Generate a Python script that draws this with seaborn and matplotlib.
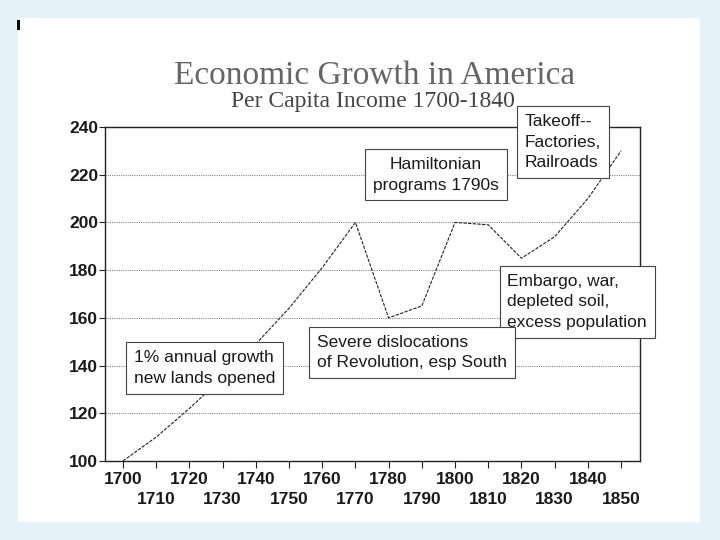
import pandas as pd
import matplotlib
matplotlib.use('Agg')
import matplotlib.pyplot as plt
import seaborn as sns
from matplotlib.patches import Rectangle

# data
years = [1700, 1710, 1720, 1730, 1740, 1750, 1760, 1770,
         1780, 1790, 1800, 1810, 1820, 1830, 1840, 1850]
income = [100, 110, 122, 135, 149, 164, 181, 200,
          160, 165, 200, 199, 185, 194, 210, 230]

y_ticks = [100, 120, 140, 160, 180, 200, 220, 240]
# labels alternate between two rows
x_top = list(range(1700, 1841, 20))
x_bottom = list(range(1710, 1851, 20))

notes = ['Takeoff--\nFactories,\nRailroads',
         'Hamiltonian\nprograms 1790s',
         'Embargo, war,\ndepleted soil,\nexcess population',
         'Severe dislocations\nof Revolution, esp South',
         '1% annual growth\nnew lands opened']
note_x = [1821, 1775.3, 1815.8, 1758.5, 1703.2]
note_y = [245.5, 227.5, 178.5, 153, 146.5]
note_align = ['left', 'center', 'left', 'left', 'left']

df = pd.DataFrame({'year': years, 'income': income})

sns.set_style('white')
plt.rcParams['font.family'] = ['Liberation Sans', 'DejaVu Sans']

fig = plt.figure(figsize=(7.2, 5.4), dpi=100)
fig.patch.set_facecolor('#e5f2f9')
# white scanned page
fig.patches.append(Rectangle((18 / 720, 18 / 540), 682 / 720, 504 / 540,
                             transform=fig.transFigure, facecolor='white',
                             edgecolor='none', zorder=-10))
fig.patches.append(Rectangle((17 / 720, 1 - 30 / 540), 3 / 720, 10 / 540,
                             transform=fig.transFigure, facecolor='black',
                             edgecolor='none', zorder=-5))

ax = fig.add_axes([105 / 720, 79 / 540, 535 / 720, 334 / 540])
ax.set_facecolor('white')

sns.lineplot(data=df, x='year', y='income', ax=ax, color='#222222',
             linewidth=0.8, linestyle=(0, (3, 1.2)))

ax.set_xlim(1694.6, 1855.7)
ax.set_ylim(100, 240)
ax.set_xticks(x_top)
ax.set_xticklabels([str(t) for t in x_top])
ax.set_xticks(x_bottom, minor=True)
ax.set_xticklabels([str(t) for t in x_bottom], minor=True)
ax.set_yticks(y_ticks)
ax.set_xlabel('')
ax.set_ylabel('')

for t in y_ticks[1:-1]:
    ax.axhline(t, color='#888888', linewidth=0.8, linestyle=(0, (1, 1)), zorder=0)

for s in ax.spines.values():
    s.set_color('#222222')
    s.set_linewidth(1.0)

ax.tick_params(axis='x', which='both', direction='out', length=5, width=0.8,
               color='#222222', labelsize=12.5, bottom=True)
ax.tick_params(axis='x', which='major', pad=3)
ax.tick_params(axis='x', which='minor', pad=17.5)
ax.tick_params(axis='y', direction='out', length=4, width=0.8, color='#222222',
               labelsize=12.5, pad=1, left=True)
for lab in (ax.get_xticklabels() + ax.get_xticklabels(minor=True)
            + ax.get_yticklabels()):
    lab.set_fontweight('bold')
    lab.set_color('#1a1a1a')

for txt, x, y, al in zip(notes, note_x, note_y, note_align):
    ax.text(x, y, txt, ha='left', va='top', multialignment=al, fontsize=12.5,
            color='#1a1a1a', linespacing=1.48, clip_on=False, zorder=5,
            bbox=dict(boxstyle='square,pad=0.45', facecolor='white',
                      edgecolor='#444444', linewidth=0.8))

fig.text(375 / 720, 1 - 76 / 540, 'Economic Growth in America', ha='center', va='center',
         family=['Liberation Serif', 'DejaVu Serif'], fontsize=24, color='#666666')
fig.text(373 / 720, 1 - 102 / 540, 'Per Capita Income 1700-1840', ha='center', va='center',
         family=['Liberation Serif', 'DejaVu Serif'], fontsize=17, color='#444444')

fig.savefig('out.png', dpi=100, facecolor=fig.get_facecolor())
